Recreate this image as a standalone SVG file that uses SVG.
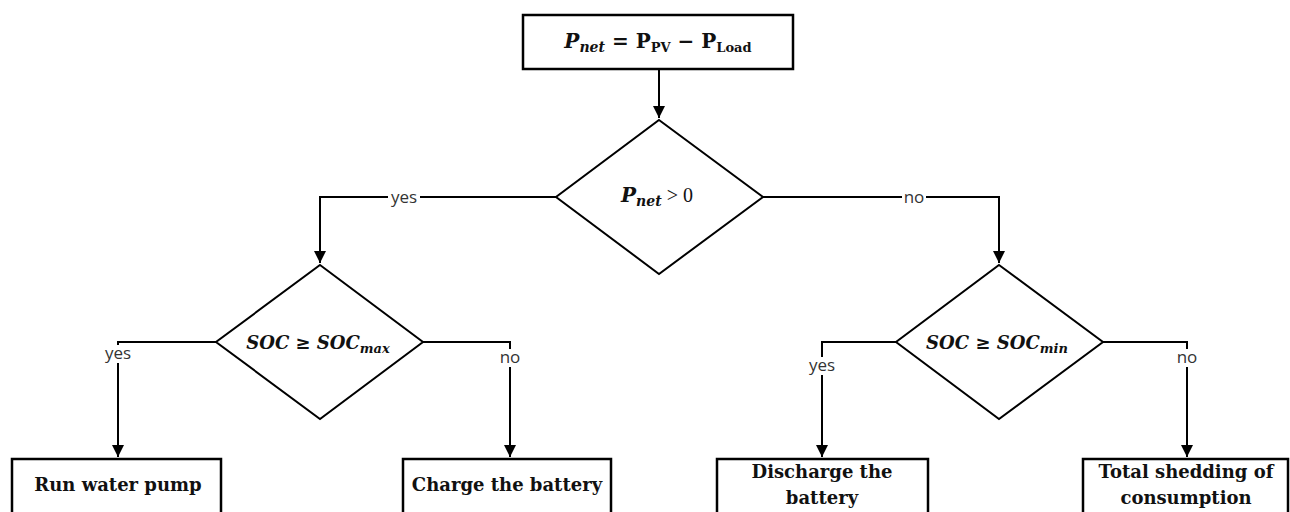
<svg xmlns="http://www.w3.org/2000/svg" width="1290" height="512" viewBox="0 0 1290 512">
<defs>
<marker id="arr" viewBox="0 0 10 10" refX="10" refY="5" markerWidth="6.5" markerHeight="6" markerUnits="strokeWidth" orient="auto">
<path d="M0,0 L10,5 L0,10 z" fill="#000"/>
</marker>
<style>
.box{fill:#fff;stroke:#000;stroke-width:2.5}
.dia{fill:#fff;stroke:#000;stroke-width:2}
.ln{fill:none;stroke:#000;stroke-width:2}
.t{font-family:"DejaVu Serif","Liberation Serif",serif;font-weight:bold;font-size:18px;text-anchor:middle;fill:#111}
.m{font-family:"DejaVu Serif","Liberation Serif",serif;font-weight:bold;font-style:italic;fill:#111}
.r{font-family:"DejaVu Serif","Liberation Serif",serif;font-weight:bold;fill:#111}
.lab{font-family:"Open Sans","Liberation Sans",sans-serif;font-size:17px;fill:#333;text-anchor:middle}
.bg{fill:#fff}
</style>
</defs>
<rect width="1290" height="512" fill="#fff"/>
<g id="connectors">
<path class="ln" d="M659,69 V118" marker-end="url(#arr)"/>
<path class="ln" d="M556,197 H320 V263" marker-end="url(#arr)"/>
<path class="ln" d="M763,197 H999 V263" marker-end="url(#arr)"/>
<path class="ln" d="M216,342 H118 V457" marker-end="url(#arr)"/>
<path class="ln" d="M423,342 H510 V457" marker-end="url(#arr)"/>
<path class="ln" d="M896,342 H822 V457" marker-end="url(#arr)"/>
<path class="ln" d="M1103,342 H1187 V457" marker-end="url(#arr)"/>
<rect class="bg" x="388" y="188" width="32" height="18"/>
<text class="lab" x="404" y="203">yes</text>
<rect class="bg" x="902" y="188" width="24" height="18"/>
<text class="lab" x="914" y="203">no</text>
<rect class="bg" x="102" y="345" width="32" height="18"/>
<text class="lab" x="118" y="359">yes</text>
<rect class="bg" x="498" y="349" width="24" height="18"/>
<text class="lab" x="510" y="363">no</text>
<rect class="bg" x="806" y="357" width="32" height="18"/>
<text class="lab" x="822" y="371">yes</text>
<rect class="bg" x="1175" y="349" width="24" height="18"/>
<text class="lab" x="1187" y="363">no</text>
</g>
<g id="n-pnet">
<rect class="box" x="523" y="15" width="270" height="54"/>
<text x="658" y="48" text-anchor="middle" font-size="20"><tspan class="m">P</tspan><tspan class="m" font-size="14" dy="4">net</tspan><tspan class="r" dy="-4"> = P</tspan><tspan class="r" font-size="13" dy="4">PV</tspan><tspan class="r" dy="-4"> − P</tspan><tspan class="r" font-size="13" dy="4">Load</tspan></text>
</g>
<g id="n-dec1">
<polygon class="dia" points="659,120 763,197 659,274 556,197"/>
<text x="657" y="202" text-anchor="middle" font-size="20"><tspan class="m">P</tspan><tspan class="m" font-size="14" dy="4">net</tspan><tspan font-family="Liberation Serif, serif" fill="#111" dy="-4"> &gt; 0</tspan></text>
</g>
<g id="n-dec2">
<polygon class="dia" points="320,265 423,342 320,419 216,342"/>
<text x="318" y="349" text-anchor="middle" font-size="18"><tspan class="m">SOC ≥ SOC</tspan><tspan class="m" font-size="13" dy="4">max</tspan></text>
</g>
<g id="n-dec3">
<polygon class="dia" points="999,265 1103,342 999,419 896,342"/>
<text x="997" y="349" text-anchor="middle" font-size="18"><tspan class="m">SOC ≥ SOC</tspan><tspan class="m" font-size="13" dy="4">min</tspan></text>
</g>
<g id="n-pump">
<rect class="box" x="12" y="459" width="209" height="60"/>
<text class="t" x="118" y="491">Run water pump</text>
</g>
<g id="n-charge">
<rect class="box" x="403" y="459" width="208" height="60"/>
<text class="t" x="507" y="491">Charge the battery</text>
</g>
<g id="n-discharge">
<rect class="box" x="717" y="459" width="211" height="60"/>
<text class="t" x="822" y="478">Discharge the</text>
<text class="t" x="822" y="504">battery</text>
</g>
<g id="n-shed">
<rect class="box" x="1083" y="459" width="205" height="60"/>
<text class="t" x="1186" y="478">Total shedding of</text>
<text class="t" x="1186" y="504">consumption</text>
</g>
</svg>
